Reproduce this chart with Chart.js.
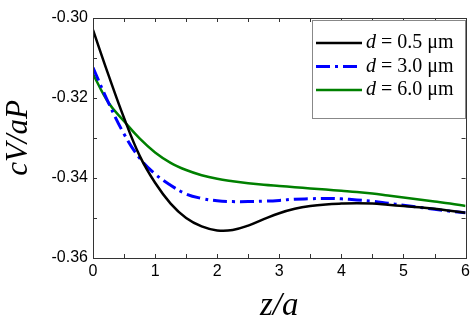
<!DOCTYPE html>
<html>
<head>
<meta charset="utf-8">
<script src="https://cdn.jsdelivr.net/npm/chart.js@4/dist/chart.umd.min.js"></script>
<style>
html,body{margin:0;padding:0;background:#fff;}
#wrap{width:474px;height:326px;position:relative;}
</style>
</head>
<body>
<div id="wrap"><canvas id="c" width="474" height="326"></canvas></div>
<script>
const xValues = [0, 0.25, 0.5, 0.75, 1.0, 1.25, 1.5, 1.75, 2.0, 2.25, 2.5, 2.75, 3.0, 3.25, 3.5, 3.75, 4.0, 4.25, 4.5, 4.75, 5.0, 5.25, 5.5, 5.75, 6.0];
const d05 = [-0.3030, -0.3143, -0.3250, -0.3344, -0.3412, -0.3464, -0.3500, -0.3521, -0.3531, -0.3530, -0.3519, -0.3503, -0.3488, -0.3477, -0.3470, -0.3466, -0.3464, -0.3463, -0.3464, -0.3467, -0.3470, -0.3473, -0.3477, -0.3482, -0.3487];
const d30 = [-0.3124, -0.3212, -0.3290, -0.3350, -0.3390, -0.3418, -0.3440, -0.3451, -0.3457, -0.3459, -0.3459, -0.3458, -0.3456, -0.3453, -0.3452, -0.3451, -0.3452, -0.3455, -0.3458, -0.3463, -0.3468, -0.3473, -0.3478, -0.3483, -0.3487];
const d60 = [-0.3140, -0.3212, -0.3258, -0.3301, -0.3336, -0.3362, -0.3380, -0.3393, -0.3402, -0.3408, -0.3413, -0.3417, -0.3420, -0.3423, -0.3426, -0.3429, -0.3432, -0.3435, -0.3439, -0.3444, -0.3449, -0.3454, -0.3459, -0.3464, -0.3470];
const seriesLabels = ['0.5', '3.0', '6.0'];
const xTicks = [0, 1, 2, 3, 4, 5, 6];
const yTicks = [-0.36, -0.34, -0.32, -0.30];

function pts(ys){ return xValues.map((x,i)=>({x:x, y:ys[i]})); }

const frameTicks = {
  id: 'frameTicks',
  afterDatasetsDraw(chart){
    const {ctx, chartArea:a, scales:{x, y}} = chart;
    ctx.save();
    ctx.strokeStyle = '#333';
    ctx.lineWidth = 1;
    ctx.beginPath();
    for (let v = 0; v <= 6.0001; v += 0.5) {
      const px = Math.round(x.getPixelForValue(v)) + 0.5;
      ctx.moveTo(px, a.bottom); ctx.lineTo(px, a.bottom - 4);
      ctx.moveTo(px, a.top); ctx.lineTo(px, a.top + 4);
    }
    for (let k = 0; k <= 6; k++) {
      const v = -0.36 + k * 0.01;
      const py = Math.round(y.getPixelForValue(v)) + 0.5;
      ctx.moveTo(a.left, py); ctx.lineTo(a.left + 4, py);
      ctx.moveTo(a.right, py); ctx.lineTo(a.right - 4, py);
    }
    ctx.stroke();
    ctx.strokeStyle = '#333';
    ctx.strokeRect(Math.round(a.left)+0.5, Math.round(a.top)+0.5, Math.round(a.right-a.left), Math.round(a.bottom-a.top));
    // legend
    const bx = 312, by = 20, bw = 153, bh = 98;
    ctx.fillStyle = '#fff';
    ctx.fillRect(bx, by, bw, bh);
    ctx.strokeStyle = '#888';
    ctx.strokeRect(bx+0.5, by+0.5, bw, bh);
    chart.data.datasets.forEach((ds, i) => {
      const cy = 43 + i * 23.5;
      ctx.beginPath();
      ctx.strokeStyle = ds.borderColor;
      ctx.lineWidth = ds.borderWidth;
      ctx.setLineDash(ds.borderDash || []);
      ctx.moveTo(316, cy); ctx.lineTo(362, cy);
      ctx.stroke();
      ctx.setLineDash([]);
      ctx.fillStyle = '#000';
      ctx.textBaseline = 'middle';
      ctx.textAlign = 'left';
      ctx.font = 'italic 20px "Liberation Serif"';
      ctx.fillText('d', 366, cy);
      const w = ctx.measureText('d').width;
      ctx.font = '20px "Liberation Serif"';
      ctx.fillText(' = ' + seriesLabels[i] + ' \u03bcm', 366 + w, cy);
    });
    ctx.restore();
  }
};

new Chart(document.getElementById('c'), {
  type: 'line',
  data: {
    datasets: [
      {label: 'd = 0.5 μm', data: pts(d05), borderColor: '#000000', borderWidth: 2.5, pointRadius: 0, tension: 0.4, fill: false},
      {label: 'd = 3.0 μm', data: pts(d30), borderColor: '#0000ff', borderWidth: 3, borderDash: [14, 5, 3, 5], pointRadius: 0, tension: 0.4, fill: false},
      {label: 'd = 6.0 μm', data: pts(d60), borderColor: '#008000', borderWidth: 2.5, pointRadius: 0, tension: 0.4, fill: false}
    ]
  },
  options: {
    responsive: false,
    animation: false,
    layout: {padding: {top: 18, right: 6, left: 0, bottom: 0}},
    plugins: {legend: {display: false}, tooltip: {enabled: false}},
    scales: {
      x: {
        type: 'linear', min: 0, max: 6,
        afterBuildTicks: s => { s.ticks = xTicks.map(v => ({value: v})); },
        afterFit: s => { s.height = 68; },
        ticks: {color: '#000', font: {family: 'Liberation Sans', size: 16}, padding: 4, maxRotation: 0, callback: v => String(v)},
        grid: {display: false, drawTicks: false},
        border: {display: false},
        title: {display: true, text: 'z/a', color: '#000', font: {family: 'Liberation Serif', size: 33, style: 'italic'}, padding: {top: 0, bottom: 0}}
      },
      y: {
        type: 'linear', min: -0.36, max: -0.30,
        afterBuildTicks: s => { s.ticks = yTicks.map(v => ({value: v})); },
        afterFit: s => { s.width = 93; },
        ticks: {color: '#000', font: {family: 'Liberation Sans', size: 16}, padding: 5, callback: v => v.toFixed(2)},
        grid: {display: false, drawTicks: false},
        border: {display: false},
        title: {display: true, text: 'cV/aP', color: '#000', font: {family: 'Liberation Serif', size: 31, style: 'italic'}, padding: {top: 0, bottom: 0}}
      }
    }
  },
  plugins: [frameTicks]
});
</script>
</body>
</html>
